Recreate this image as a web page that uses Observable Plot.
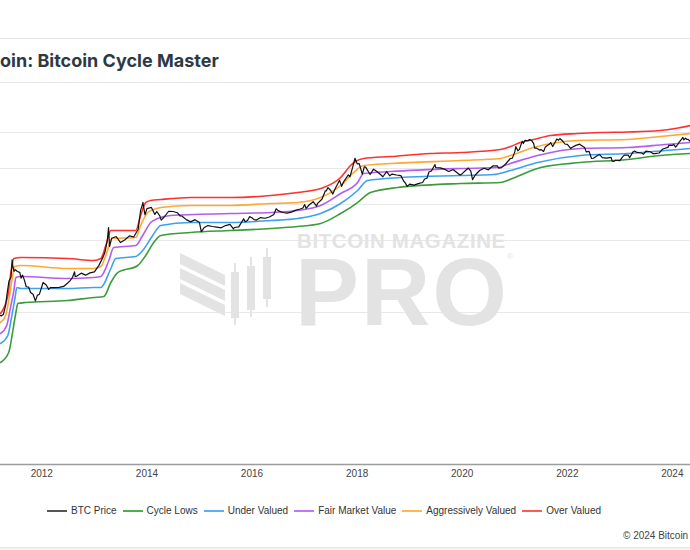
<!DOCTYPE html>
<html><head><meta charset="utf-8">
<script src="https://cdn.jsdelivr.net/npm/d3@7"></script>
<script src="https://cdn.jsdelivr.net/npm/@observablehq/plot@0.6"></script>
<style>
html,body{margin:0;padding:0;background:#fff;}
body{width:690px;height:550px;overflow:hidden;position:relative;font-family:"Liberation Sans",Arial,sans-serif;}
.hr{position:absolute;left:0;width:690px;height:1px;background:#e6e6e6;}
#title{position:absolute;top:49px;left:0;white-space:nowrap;font:700 18px Inter,"Liberation Sans",sans-serif;color:#2e3944;line-height:24px;}
#chart{position:absolute;left:0;top:83px;}
#legend{position:absolute;left:47px;top:504px;display:flex;gap:6px;font-size:10px;color:#333;line-height:14px;white-space:nowrap;}
.item{display:flex;align-items:center;}
.sw{width:20px;height:2px;margin-right:4px;}
#copy{position:absolute;left:623px;top:530px;font-size:10px;color:#444;white-space:nowrap;}
#wm{position:absolute;left:0;top:0;pointer-events:none;}
#bottom{position:absolute;left:0;top:547px;width:690px;height:3px;background:#f4f4f4;border-top:1px solid #e6e6e6;}
</style></head>
<body>
<div class="hr" style="top:38px"></div>
<div id="title">Bitcoin: Bitcoin Cycle Master</div>
<div class="hr" style="top:82px"></div>
<div id="chart"></div>
<svg id="wm" width="690" height="550">
  <g fill="#e3e3e3">
    <polygon points="180,253 225,275 225,286 180,264"/>
    <polygon points="180,268 225,290 225,301 180,279"/>
    <polygon points="180,283 225,305 225,316 180,294"/>
    <rect x="234" y="263" width="2" height="62"/><rect x="231" y="272" width="8" height="46"/>
    <rect x="250" y="257" width="2" height="60"/><rect x="247" y="266" width="8" height="44"/>
    <rect x="266" y="248" width="2" height="59"/><rect x="263" y="257" width="8" height="42"/>
    <text x="297" y="248" font-family="Liberation Sans, Arial, sans-serif" font-weight="700" font-size="20.5" letter-spacing="0.6">BITCOIN MAGAZINE</text>
    <text x="295" y="325" font-family="Liberation Sans, Arial, sans-serif" font-weight="700" font-size="96" letter-spacing="2">PRO</text>
    <text x="507" y="259" font-family="Liberation Sans, Arial, sans-serif" font-size="8">®</text>
  </g>
</svg>
<div id="legend"></div>
<div id="copy">© 2024 Bitcoin Magazine Pro</div>
<div id="bottom"></div>
<script>
// ---- data ----
const btcPrice = [
["2011-03-10",0.88],["2011-03-25",0.8],["2011-04-10",0.9],["2011-04-25",1.6],["2011-05-05",3.4],["2011-05-18",7.5],["2011-06-01",9.6],["2011-06-06",18],["2011-06-09",29],["2011-06-14",19],["2011-06-22",14],["2011-07-01",15.5],["2011-07-15",13.8],["2011-08-01",13],["2011-08-10",9],["2011-08-20",11],["2011-09-01",8.2],["2011-09-15",5.2],["2011-10-01",5.1],["2011-10-15",3.6],["2011-11-01",3.2],["2011-11-18",2.1],["2011-12-01",3.0],["2011-12-15",3.2],
["2012-01-01",5.2],["2012-01-10",6.8],["2012-02-01",5.8],["2012-02-18",4.4],["2012-03-01",4.9],["2012-04-01",4.9],["2012-05-01",5.0],["2012-06-01",5.3],["2012-07-01",6.7],["2012-07-15",7.6],["2012-08-01",9.4],["2012-08-16",13.5],["2012-08-20",10],["2012-09-01",10.3],["2012-10-01",12.4],["2012-11-01",10.9],["2012-12-01",12.6],
["2013-01-01",13.5],["2013-02-01",20.4],["2013-03-01",34],["2013-03-15",47],["2013-04-01",104],["2013-04-09",230],["2013-04-16",68],["2013-05-01",116],["2013-06-01",129],["2013-07-01",88],["2013-08-01",105],["2013-09-01",135],["2013-10-01",125],["2013-11-01",205],["2013-11-18",700],["2013-12-01",1000],["2013-12-04",1150],["2013-12-18",520],
["2014-01-01",770],["2014-02-01",830],["2014-02-25",530],["2014-03-10",640],["2014-04-01",475],["2014-04-10",370],["2014-05-01",450],["2014-06-01",650],["2014-07-01",640],["2014-08-01",590],["2014-08-20",480],["2014-09-01",480],["2014-10-01",380],["2014-11-01",330],["2014-12-01",380],
["2015-01-01",315],["2015-01-14",175],["2015-02-01",225],["2015-03-01",260],["2015-04-01",245],["2015-05-01",235],["2015-06-01",225],["2015-07-01",260],["2015-08-01",280],["2015-08-25",210],["2015-09-01",230],["2015-10-01",240],["2015-11-04",400],["2015-11-15",330],["2015-12-01",360],["2015-12-15",460],
["2016-01-01",430],["2016-01-15",380],["2016-02-01",370],["2016-03-01",435],["2016-04-01",415],["2016-05-01",450],["2016-06-01",530],["2016-06-17",760],["2016-07-01",675],["2016-08-01",600],["2016-09-01",575],["2016-10-01",615],["2016-11-01",700],["2016-12-01",750],["2016-12-20",800],
["2017-01-01",1000],["2017-01-11",780],["2017-02-01",970],["2017-03-01",1200],["2017-03-25",900],["2017-04-01",1080],["2017-05-01",1400],["2017-05-25",2400],["2017-06-01",2400],["2017-06-12",2950],["2017-07-01",2450],["2017-07-16",1950],["2017-08-01",2750],["2017-09-01",4700],["2017-09-15",3200],["2017-10-01",4400],["2017-11-01",6700],["2017-11-12",5900],["2017-12-01",10900],["2017-12-17",19300],
["2018-01-01",13500],["2018-01-15",13800],["2018-02-06",7000],["2018-02-20",11200],["2018-03-01",10900],["2018-04-01",6800],["2018-04-25",9600],["2018-05-01",9200],["2018-06-01",7500],["2018-06-29",5900],["2018-07-25",8200],["2018-08-01",7600],["2018-08-15",6300],["2018-09-01",7000],["2018-10-01",6600],["2018-11-01",6350],["2018-11-20",4500],["2018-12-01",4000],["2018-12-15",3200],
["2019-01-01",3700],["2019-02-01",3450],["2019-03-01",3800],["2019-04-01",4100],["2019-04-15",5100],["2019-05-01",5350],["2019-05-15",8000],["2019-06-01",8500],["2019-06-26",12900],["2019-07-01",10600],["2019-08-01",10400],["2019-09-01",9600],["2019-09-25",8400],["2019-10-01",8300],["2019-10-26",9200],["2019-11-01",9200],["2019-12-01",7400],["2019-12-17",6600],
["2020-01-01",7200],["2020-02-01",9400],["2020-02-13",10300],["2020-03-01",8500],["2020-03-13",4900],["2020-04-01",6600],["2020-05-01",8800],["2020-06-01",10200],["2020-07-01",9200],["2020-08-01",11800],["2020-09-01",11900],["2020-09-10",10300],["2020-10-01",10600],["2020-11-01",13800],["2020-12-01",19000],["2020-12-15",19400],
["2021-01-01",29400],["2021-01-08",40500],["2021-01-22",31000],["2021-02-01",33500],["2021-02-21",57000],["2021-03-01",49500],["2021-03-13",61000],["2021-04-01",59000],["2021-04-14",63500],["2021-05-01",57800],["2021-05-12",49000],["2021-05-19",37000],["2021-06-01",36700],["2021-06-22",32500],["2021-07-01",33500],["2021-07-20",29800],["2021-08-01",39900],["2021-09-01",48800],["2021-09-07",52500],["2021-09-21",40700],["2021-10-01",48000],["2021-10-20",66000],["2021-11-01",61000],["2021-11-10",68000],["2021-12-01",57000],["2021-12-15",48000],
["2022-01-01",47000],["2022-01-24",36000],["2022-02-01",38500],["2022-03-01",44000],["2022-03-29",47500],["2022-04-01",46000],["2022-05-01",38500],["2022-05-12",29000],["2022-06-01",30000],["2022-06-18",19000],["2022-07-01",19300],["2022-08-01",23300],["2022-08-14",24400],["2022-09-01",20000],["2022-10-01",19400],["2022-11-01",20500],["2022-11-09",16000],["2022-11-21",15800],["2022-12-01",17000],["2022-12-30",16500],
["2023-01-01",16600],["2023-01-20",21000],["2023-02-01",23500],["2023-03-01",23500],["2023-03-10",20000],["2023-04-01",28500],["2023-04-14",30500],["2023-05-01",28000],["2023-06-01",27000],["2023-06-15",25000],["2023-07-01",30500],["2023-08-01",29200],["2023-08-18",26000],["2023-09-01",26000],["2023-10-01",27000],["2023-10-25",34500],["2023-11-01",35400],["2023-12-01",38700],["2023-12-08",44000],
["2024-01-01",44200],["2024-01-11",46600],["2024-01-23",39500],["2024-02-01",43000],["2024-02-15",52000],["2024-03-01",62000],["2024-03-14",73000],["2024-03-20",62500],["2024-04-01",69500],["2024-04-13",64000],["2024-04-20",64900],["2024-05-01",58000],["2024-05-10",63000]
];
const cycleLows = [
["2011-03-20",0.0408],["2011-05-16",0.0774],["2011-06-14",0.316],["2011-07-05",1.0],["2011-07-18",1.78],["2011-09-11",1.9],["2012-06-29",2.15],["2012-12-27",2.61],["2013-03-07",2.78],["2013-04-25",6.81],["2013-06-12",12.9],["2013-10-29",20.2],["2013-12-23",38.3],["2014-02-17",88],["2014-04-07",138],["2014-11-01",167],["2015-08-06",190],["2016-05-10",215],["2016-11-13",245],["2017-04-22",297],["2017-09-08",562],["2018-01-04",1136],["2018-04-04",2154],["2018-10-09",2968],["2019-12-20",3831],["2020-09-23",4084],["2020-12-15",5275],["2021-06-29",10660],["2022-04-02",14680],["2023-02-22",17780],["2023-10-09",22970],["2024-05-06",26100]
];
const underValued = [
["2011-03-20",0.138],["2011-05-10",0.23],["2011-06-07",0.825],["2011-06-28",2.45],["2011-07-12",4.95],["2011-08-08",4.64],["2012-06-29",4.64],["2012-12-27",4.95],["2013-02-14",4.95],["2013-04-25",16.7],["2013-05-29",31.6],["2013-10-15",35.9],["2013-12-02",52.7],["2014-02-10",138],["2014-04-07",261],["2014-11-01",316],["2015-08-06",316],["2016-05-10",359],["2016-11-13",408],["2017-04-22",562],["2017-09-08",1067],["2018-01-04",2448],["2018-03-14",4642],["2018-10-30",5623],["2019-12-20",6390],["2020-08-06",6813],["2020-12-01",8799],["2021-06-08",14680],["2022-04-02",22970],["2023-02-22",26100],["2023-11-13",31620],["2024-05-06",35940]
];
const fairMarketValue = [
["2011-03-20",0.261],["2011-05-02",0.435],["2011-05-31",1.56],["2011-06-21",4.08],["2011-07-05",9.38],["2011-08-08",10],["2012-06-29",8.8],["2012-12-27",9.38],["2013-02-14",10],["2013-04-11",27.8],["2013-05-15",63.9],["2013-10-15",72.6],["2013-12-02",138],["2014-01-27",316],["2014-03-16",408],["2014-06-15",495],["2015-08-06",562],["2016-05-10",600],["2016-11-13",681],["2017-04-22",938],["2017-09-08",2020],["2018-01-04",4084],["2018-02-15",7260],["2018-08-21",8254],["2019-12-20",10000],["2020-09-03",10660],["2020-12-01",13770],["2021-06-08",22970],["2022-04-02",35940],["2023-02-22",38310],["2023-11-13",46420],["2024-05-06",52740]
];
const aggressivelyValued = [
["2011-03-20",0.527],["2011-04-25",0.825],["2011-05-16",2.15],["2011-06-07",7.74],["2011-06-28",18.96],["2011-08-08",20.2],["2012-06-29",16.7],["2012-12-27",16.7],["2013-02-14",18.96],["2013-03-28",46.4],["2013-05-01",113.6],["2013-10-15",121],["2013-11-18",261],["2014-01-06",600],["2014-02-17",726],["2014-04-07",826],["2014-11-01",938],["2015-08-06",938],["2016-05-10",1067],["2016-11-13",1136],["2017-04-22",1564],["2017-09-08",3373],["2017-12-07",7743],["2018-02-15",12115],["2018-08-21",13770],["2019-12-20",16680],["2020-09-23",18960],["2020-12-01",22970],["2021-05-11",38310],["2022-03-13",59950],["2023-02-22",63920],["2023-10-09",77430],["2024-05-06",93800]
];
const overValued = [
["2011-03-20",0.938],["2011-05-10",2.97],["2011-05-31",12.9],["2011-06-21",31.6],["2011-08-08",33.7],["2012-06-29",31.6],["2012-12-27",27.8],["2013-02-14",31.6],["2013-03-21",72.6],["2013-04-25",190],["2013-10-15",190],["2013-11-18",495],["2013-12-23",1136],["2014-01-27",1292],["2014-04-07",1377],["2014-11-01",1564],["2015-08-06",1564],["2016-05-10",1778],["2016-11-13",2154],["2017-04-22",2783],["2017-09-08",5623],["2017-11-16",12115],["2017-12-20",15640],["2018-02-15",18960],["2018-08-21",21540],["2019-05-26",26100],["2019-12-20",27830],["2020-09-23",33730],["2020-12-01",40840],["2021-02-09",52740],["2021-05-11",63920],["2021-09-06",82540],["2022-03-13",93800],["2022-08-19",100000],["2023-02-22",103200],["2023-10-09",113600],["2024-01-21",129200],["2024-05-06",156400]
];
const seriesNames = ["BTC Price","Cycle Lows","Under Valued","Fair Market Value","Aggressively Valued","Over Valued"];
const seriesColors = ["#111111","#3a9c3a","#3ea0f2","#b45cf0","#ffa733","#ff3030"];
const legendColors = ["#555555","#4caf50","#5ab0f5","#c278f5","#ffb74d","#ff5a5a"];
const tickYears = [2012,2014,2016,2018,2020,2022,2024];
const gridValues = [1, 100, 1000, 10000, 100000];
const xStart = "2011-03-20", xEnd = "2024-05-06";
const yMin = 6.0e-5, yMax = 2.3e6;

// ---- build ----
const toRows = (arr) => arr.map(([d, v]) => ({date: new Date(d), value: v}));
const bandData = [cycleLows, underValued, fairMarketValue, aggressivelyValued, overValued];

const marks = [
  Plot.ruleY(gridValues, {stroke: "#e8e8e8", strokeWidth: 1}),
  Plot.frame({anchor: "bottom", stroke: "#9c9c9c", strokeWidth: 1.5}),
  Plot.axisX({ticks: tickYears.map(y => new Date(Date.UTC(y, 0, 1))), tickFormat: d3.utcFormat("%Y"), tickSize: 0, tickPadding: 5, fill: "#444"})
];
bandData.forEach((arr, i) => {
  marks.push(Plot.line(toRows(arr), {x: "date", y: "value", stroke: seriesColors[i + 1], strokeWidth: 1.6, curve: "monotone-x", clip: true}));
});
marks.push(Plot.line(toRows(btcPrice), {x: "date", y: "value", stroke: seriesColors[0], strokeWidth: 1.2, clip: true}));

const chart = Plot.plot({
  width: 690, height: 411,
  marginLeft: 0, marginRight: 0, marginTop: 0, marginBottom: 30,
  style: {background: "transparent", fontFamily: "Liberation Sans, Arial, sans-serif", fontSize: "10px", color: "#444", overflow: "visible"},
  x: {type: "utc", domain: [new Date(xStart), new Date(xEnd)]},
  y: {type: "log", domain: [yMin, yMax], axis: null},
  marks
});
document.getElementById("chart").appendChild(chart);

// legend
const lg = document.getElementById("legend");
seriesNames.forEach((n, i) => {
  const it = document.createElement("div"); it.className = "item";
  const sw = document.createElement("div"); sw.className = "sw"; sw.style.background = legendColors[i];
  const tx = document.createElement("span"); tx.textContent = n;
  it.appendChild(sw); it.appendChild(tx); lg.appendChild(it);
});

// title clipped at the left edge as in the reference
const ctx = document.createElement("canvas").getContext("2d");
ctx.font = "700 18px Inter";
document.getElementById("title").style.left = (-ctx.measureText("Bitc").width) + "px";
</script>
</body></html>
